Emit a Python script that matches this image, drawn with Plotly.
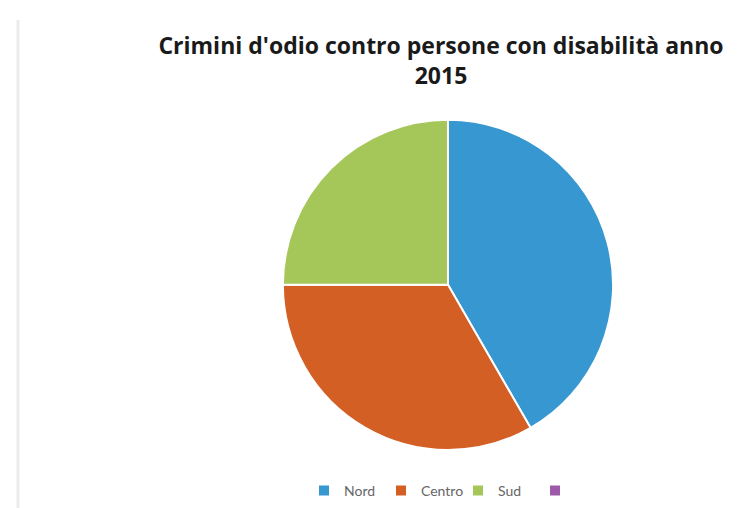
import plotly.graph_objects as go

labels = ["Nord", "Centro", "Sud", " "]
values = [5, 4, 3, 0]
colors = ["#3797D1", "#D35F24", "#A5C75A", "#9C5AA8"]

fig = go.Figure()
fig.add_trace(go.Pie(
    labels=labels,
    values=values,
    sort=False,
    direction="clockwise",
    rotation=0,
    marker=dict(colors=colors, line=dict(color="white", width=2)),
    textinfo="none",
    hoverinfo="label+value+percent",
    domain=dict(x=[0.373, 0.821], y=[0.130, 0.780]),
))

fig.update_layout(
    width=737, height=508,
    margin=dict(l=0, r=0, t=0, b=0),
    paper_bgcolor="white",
    plot_bgcolor="white",
    title=dict(
        text="Crimini d'odio contro persone con disabilità anno<br>2015",
        x=433/737, xanchor="center",
        y=1-46/508, yanchor="top",
        font=dict(family="Open Sans", size=23, color="#1a1a1a", weight="bold"),
    ),
    legend=dict(
        orientation="h",
        x=450/737, xanchor="center",
        y=1-483/508, yanchor="middle",
        font=dict(family="Lato", size=14, color="#666666"),
        itemwidth=30,
        entrywidth=32,
    ),
    shapes=[dict(type="line", xref="paper", yref="paper",
                 x0=10/737, x1=10/737, y0=0, y1=1-12/508,
                 line=dict(color="#ebebeb", width=3))],
)

fig.write_html("out.html")
